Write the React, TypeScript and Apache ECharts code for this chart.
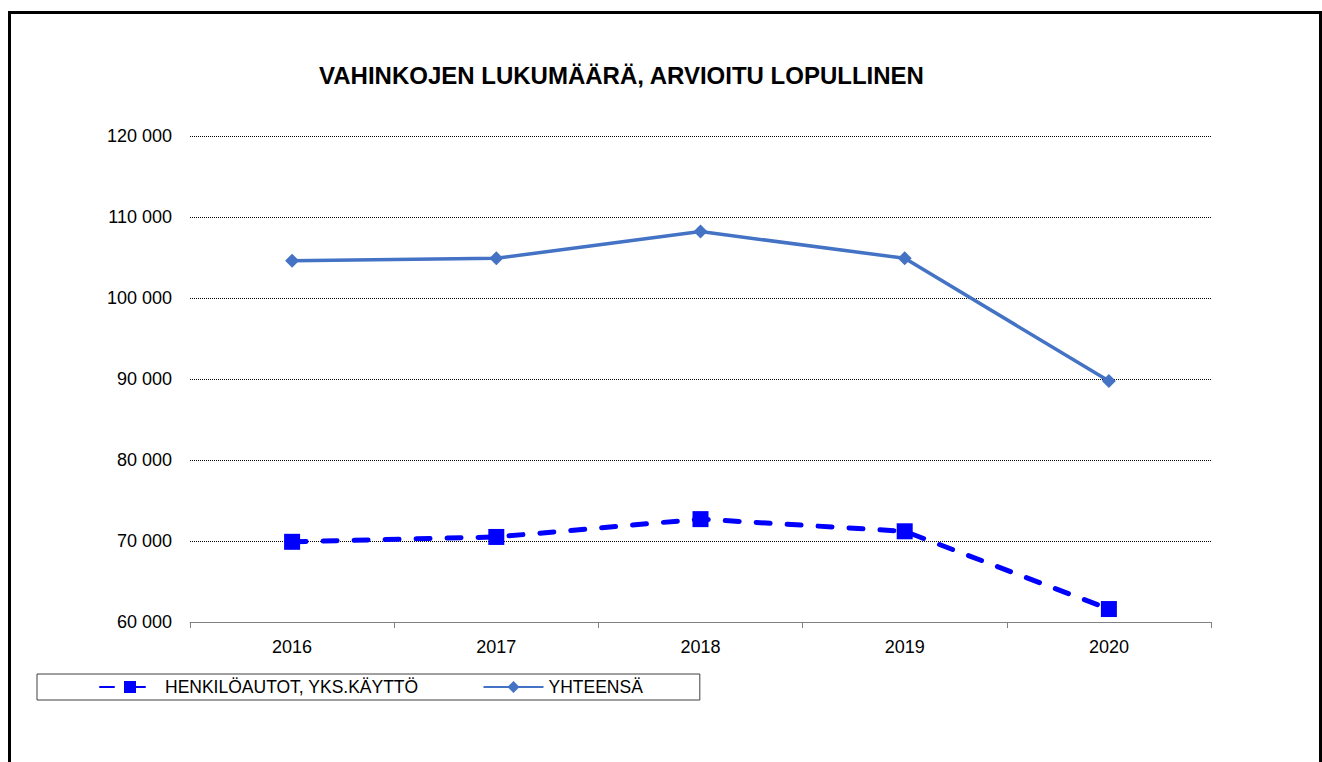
import React, { useEffect, useRef } from "react";
import * as echarts from "echarts";

const categories = ["2016", "2017", "2018", "2019", "2020"];
const henkiloautot = [69900, 70500, 72700, 71200, 61600];
const yhteensa = [104600, 104900, 108200, 104900, 89750];
const seriesNames = ["HENKILÖAUTOT, YKS.KÄYTTÖ", "YHTEENSÄ"];
const titleText = "VAHINKOJEN LUKUMÄÄRÄ, ARVIOITU LOPULLINEN";

const FONT = "Arial, 'Liberation Sans', sans-serif";

export default function App() {
  const ref = useRef<HTMLDivElement>(null);
  useEffect(() => {
    if (!ref.current) return;
    const chart = echarts.init(ref.current, undefined, { renderer: "svg" });
    chart.setOption({
      animation: false,
      backgroundColor: "#fff",
      title: {
        text: titleText,
        left: 314,
        top: 58,
        textStyle: { fontFamily: FONT, fontWeight: "bold", fontSize: 24, color: "#000" },
      },
      graphic: [
        {
          type: "rect",
          shape: { x: 9.5, y: 12.5, width: 1311, height: 800 },
          style: { fill: "none", stroke: "#000", lineWidth: 3 },
          silent: true,
        },
      ],
      legend: {
        left: 37,
        top: 674,
        orient: "horizontal",
        borderColor: "#404040",
        borderWidth: 1,
        padding: [4, 57, 4, 62],
        itemWidth: 60,
        itemHeight: 15,
        itemGap: 64,
        textStyle: { fontFamily: FONT, fontSize: 17.5, color: "#000" },
        data: seriesNames,
      },
      grid: { left: 190, right: 111, top: 136, bottom: 140, containLabel: false },
      xAxis: {
        type: "category",
        data: categories,
        boundaryGap: true,
        axisLine: { lineStyle: { color: "#808080", width: 1 } },
        axisTick: { show: true, alignWithLabel: false, length: 6, lineStyle: { color: "#808080" } },
        axisLabel: { fontFamily: FONT, fontSize: 18, color: "#000", margin: 16 },
      },
      yAxis: {
        type: "value",
        min: 60000,
        max: 120000,
        interval: 10000,
        axisLine: { show: false },
        axisTick: { show: false },
        axisLabel: {
          fontFamily: FONT,
          fontSize: 18,
          color: "#000",
          margin: 18,
          formatter: (v: number) => String(v).replace(/\B(?=(\d{3})+(?!\d))/g, " "),
        },
        splitLine: { lineStyle: { color: "#000", width: 1, type: [1, 1] } },
      },
      series: [
        {
          name: seriesNames[0],
          type: "line",
          data: henkiloautot,
          symbol: "rect",
          symbolSize: 16,
          itemStyle: { color: "#0000FF" },
          lineStyle: { color: "#0000FF", width: 5, type: [14, 17], cap: "round" },
          z: 3,
        },
        {
          name: seriesNames[1],
          type: "line",
          data: yhteensa,
          symbol: "diamond",
          symbolSize: 14,
          itemStyle: { color: "#4472C4" },
          lineStyle: { color: "#4472C4", width: 3.5 },
          z: 2,
        },
      ],
    });
    return () => chart.dispose();
  }, []);
  return (
    <div
      ref={ref}
      style={{ position: "absolute", left: 0, top: 0, width: 1322, height: 762 }}
    />
  );
}
